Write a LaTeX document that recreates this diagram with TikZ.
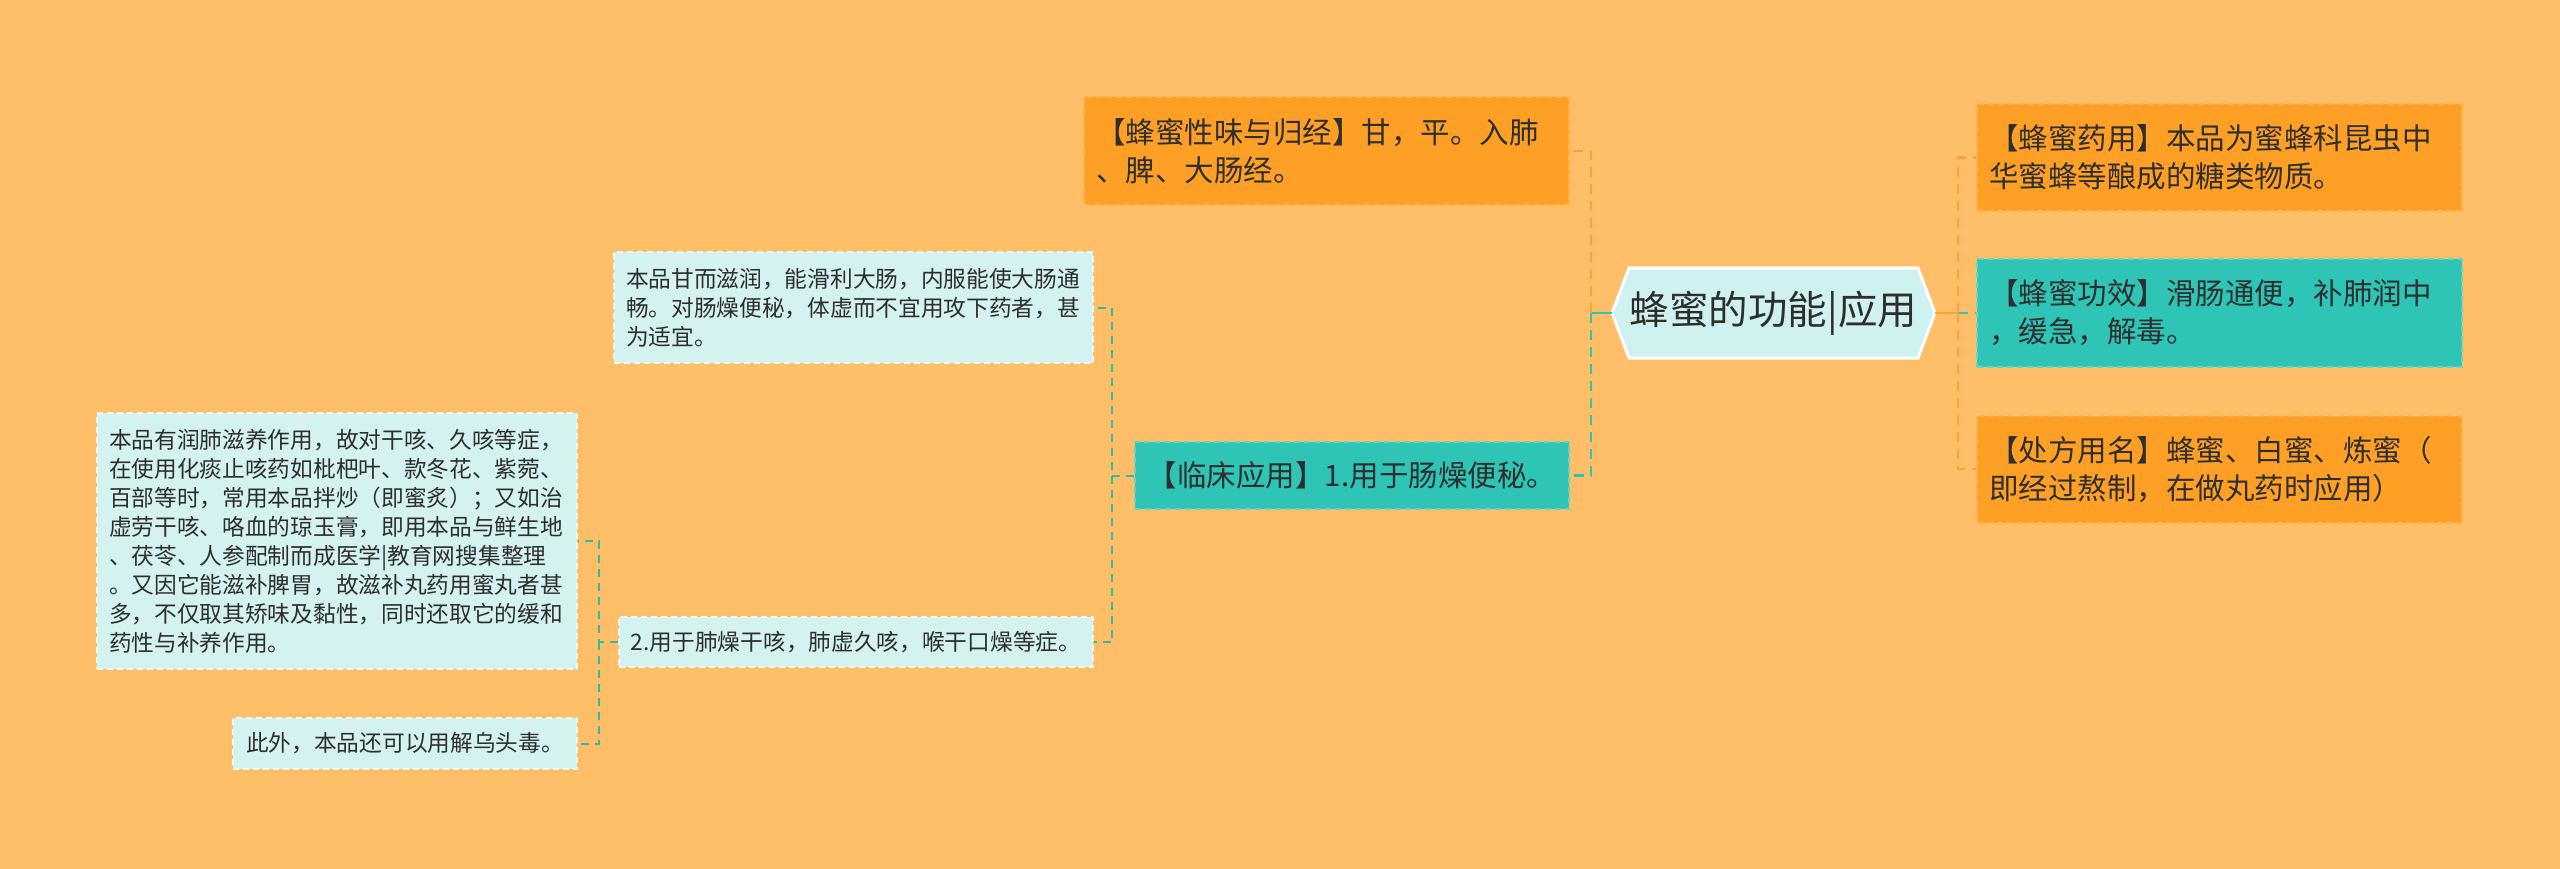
\documentclass[tikz,border=0pt]{standalone}
\usepackage{fontspec}
\setmainfont{Noto Sans CJK SC}
\definecolor{bg}{HTML}{FFBF69}
\definecolor{orfill}{HTML}{FFA026}
\definecolor{ordash}{HTML}{FFB44C}
\definecolor{tlfill}{HTML}{2EC4B6}
\definecolor{tldash}{HTML}{62D4C8}
\definecolor{ltfill}{HTML}{D3F2F0}
\definecolor{ltdash}{HTML}{EDFAF8}
\definecolor{txt}{HTML}{2E2E2E}
\definecolor{hexfill}{HTML}{CFF2F0}
\definecolor{oline}{HTML}{F9A332}
\definecolor{tline}{HTML}{2EC4B6}
\definecolor{tline2}{HTML}{35B9A6}
\tikzset{
  box/.style={rectangle, dash pattern=on 6pt off 4pt, line width=2pt, inner xsep=12pt, inner ysep=0pt, text=txt},
  bigfont/.style={font=\fontsize{29.5}{38}\selectfont},
  smallfont/.style={font=\fontsize{22.7}{29}\selectfont},
  obox/.style={box, bigfont, fill=orfill, draw=ordash},
  tbox/.style={box, bigfont, fill=tlfill, draw=tldash},
  lbox/.style={box, smallfont, fill=ltfill, draw=ltdash},
  conn/.style={line width=2.5pt, dash pattern=on 10pt off 7pt},
  oconn/.style={conn, draw=oline},
  tconn/.style={conn, draw=tline},
  sconn/.style={line width=2pt, dash pattern=on 8pt off 6pt, draw=tline2},
}
\begin{document}
\begin{tikzpicture}[x=1pt,y=-1pt]
\fill[bg] (0,0) rectangle (2560,869);
\useasboundingbox (0,0) rectangle (2560,869);

% central hexagon
\filldraw[fill=hexfill, draw=white, line width=3pt]
  (1612,313) -- (1629,268) -- (1918,268) -- (1935,313) -- (1918,358) -- (1629,358) -- cycle;
\node[minimum width=323pt, minimum height=90pt, inner sep=0pt, text=txt, font=\fontsize{39.5}{46}\selectfont] (center) at (1773.5,313) {蜂蜜的功能|应用};

% right boxes
\node[obox, text width=461pt, minimum height=107pt, align=left] (r1) at (2219.5,157.5)
  {【蜂蜜药用】本品为蜜蜂科昆虫中\\华蜜蜂等酿成的糖类物质。};
\node[tbox, text width=461pt, minimum height=107pt, align=left] (r2) at (2219.5,313)
  {【蜂蜜功效】滑肠通便，补肺润中\\，缓急，解毒。};
\node[obox, text width=461pt, minimum height=107pt, align=left] (r3) at (2219.5,469)
  {【处方用名】蜂蜜、白蜜、炼蜜（\\即经过熬制，在做丸药时应用）};

% left first level
\node[obox, text width=461pt, minimum height=108pt, align=left] (top) at (1326.5,151)
  {【蜂蜜性味与归经】甘，平。入肺\\、脾、大肠经。};
\node[tbox, minimum width=434pt, minimum height=67pt, align=center] (lc) at (1352,475.5)
  {【临床应用】1.用于肠燥便秘。};

% second level
\node[lbox, text width=455pt, minimum height=111pt, align=left] (bp) at (853.5,307.5)
  {本品甘而滋润，能滑利大肠，内服能使大肠通\\畅。对肠燥便秘，体虚而不宜用攻下药者，甚\\为适宜。};
\node[lbox, minimum width=472pt, minimum height=50pt, align=center] (u2) at (856,642)
  {2.用于肺燥干咳，肺虚久咳，喉干口燥等症。};

% third level
\node[lbox, text width=456pt, minimum height=256pt, align=left] (big) at (337,541)
  {本品有润肺滋养作用，故对干咳、久咳等症，\\在使用化痰止咳药如枇杷叶、款冬花、紫菀、\\百部等时，常用本品拌炒（即蜜炙）；又如治\\虚劳干咳、咯血的琼玉膏，即用本品与鲜生地\\、茯苓、人参配制而成医学|教育网搜集整理\\。又因它能滋补脾胃，故滋补丸药用蜜丸者甚\\多，不仅取其矫味及黏性，同时还取它的缓和\\药性与补养作用。};
\node[lbox, minimum width=344pt, minimum height=51pt, align=center] (cw) at (405,743.5)
  {此外，本品还可以用解乌头毒。};

% junctions
\coordinate (jL) at (1591,313);
\coordinate (jR) at (1958,313);
\coordinate (jC) at (1112,475.5);
\coordinate (jB) at (599,642);

% connectors
\draw[line width=2.5pt, draw=tline] (center.west) -- (jL);
\draw[oconn] (jL) |- (top.east);
\draw[tconn] (jL) |- (lc.east);

\draw[line width=2.5pt, draw=oline] (center.east) -- (jR);
\draw[oconn] (jR) |- (r1.west);
\draw[tconn] (jR) -- (r2.west);
\draw[oconn] (jR) |- (r3.west);

\draw[sconn] (lc.west) -- (jC) |- (bp.east);
\draw[sconn] (jC) |- (u2.east);

\draw[sconn] (u2.west) -- (jB) |- (big.east);
\draw[sconn] (jB) |- (cw.east);
\end{tikzpicture}
\end{document}
